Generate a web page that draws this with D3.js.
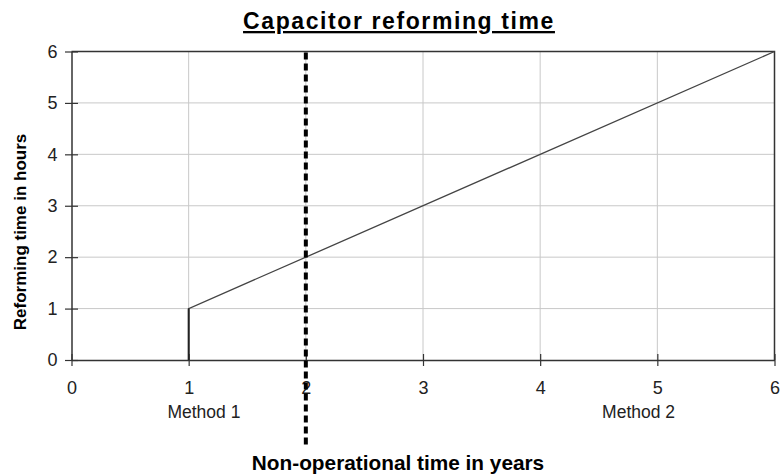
<!DOCTYPE html>
<html>
<head>
<meta charset="utf-8">
<script src="https://cdn.jsdelivr.net/npm/d3@7"></script>
<style>
  body { margin: 0; background: #fff; }
  text { font-family: "Liberation Sans", Arial, sans-serif; }
</style>
</head>
<body>
<script>
// chart data
var yearsOff = [1, 1, 6];       // non-operational time in years
var reformHours = [0, 1, 6];    // reforming time in hours
var xTicks = [0, 1, 2, 3, 4, 5, 6];
var yTicks = [0, 1, 2, 3, 4, 5, 6];
var methodNames = ["Method 1", "Method 2"];
var methodAt = [1.13, 4.84];    // x value under which each method label sits
var splitYear = 2;              // boundary between the methods

var W = 781, H = 476;
var svg = d3.select("body").append("svg")
            .attr("width", W)
            .attr("height", H);

var x = d3.scaleLinear().domain([0, 6]).range([71.5, 774.5]);
var y = d3.scaleLinear().domain([0, 6]).range([360, 51.5]);

// grid
svg.append("g").selectAll("line")
   .data(xTicks.slice(1, -1)).enter().append("line")
   .attr("x1", function(d){ return x(d); }).attr("x2", function(d){ return x(d); })
   .attr("y1", y(0)).attr("y2", y(6))
   .attr("stroke", "#c8c8c8").attr("stroke-width", 1);
svg.append("g").selectAll("line")
   .data(yTicks.slice(1, -1)).enter().append("line")
   .attr("x1", x(0)).attr("x2", x(6))
   .attr("y1", function(d){ return y(d); }).attr("y2", function(d){ return y(d); })
   .attr("stroke", "#c8c8c8").attr("stroke-width", 1);

// frame (top and right)
svg.append("path")
   .attr("d", "M" + x(0) + "," + y(6) + "H" + x(6) + "V" + y(0))
   .attr("fill", "none").attr("stroke", "#333").attr("stroke-width", 1.5);

// axes
var fmt = d3.format("d");
var xAxis = svg.append("g").attr("transform", "translate(0," + y(0) + ")")
   .call(d3.axisBottom(x).tickValues(xTicks).tickFormat(fmt).tickSizeInner(6).tickSizeOuter(0).tickPadding(15));
var yAxis = svg.append("g").attr("transform", "translate(" + x(0) + ",0)")
   .call(d3.axisLeft(y).tickValues(yTicks).tickFormat(fmt).tickSizeInner(6).tickSizeOuter(0).tickPadding(8));
[xAxis, yAxis].forEach(function(a){
  a.attr("font-size", null).attr("font-family", null);
  a.select(".domain").attr("stroke", "#333").attr("stroke-width", 1.5);
  a.selectAll(".tick line").attr("stroke", "#333").attr("stroke-width", 1.2);
  a.selectAll(".tick text").style("font-size", "18px").attr("fill", "#222");
});
// x ticks cross the axis
xAxis.selectAll(".tick line").attr("y1", -6).attr("y2", 6);
xAxis.selectAll(".tick text").attr("y", 21);
yAxis.selectAll(".tick line").attr("x1", -6.5).attr("x2", 6.5);

// series
var pts = yearsOff.map(function(d, i){ return [d, reformHours[i]]; });
svg.append("path")
   .datum(pts)
   .attr("d", d3.line().x(function(d){ return x(d[0]); }).y(function(d){ return y(d[1]); }))
   .attr("fill", "none").attr("stroke", "#444").attr("stroke-width", 1.3);
// first step drawn thicker like the original
svg.append("line")
   .attr("x1", x(yearsOff[0])).attr("x2", x(yearsOff[1]))
   .attr("y1", y(reformHours[0])).attr("y2", y(reformHours[1]))
   .attr("stroke", "#222").attr("stroke-width", 2);

// method divider
svg.append("line")
   .attr("x1", x(splitYear)).attr("x2", x(splitYear))
   .attr("y1", y(6) + 1).attr("y2", 446)
   .attr("stroke", "#000").attr("stroke-width", 4)
   .attr("stroke-dasharray", "7,4");

// method labels
svg.append("g").selectAll("text")
   .data(methodNames).enter().append("text")
   .attr("x", function(d, i){ return x(methodAt[i]); })
   .attr("y", 418)
   .attr("text-anchor", "middle")
   .style("font-size", "17.5px").attr("fill", "#222")
   .text(function(d){ return d; });

// titles
svg.append("text")
   .attr("x", 399).attr("y", 29)
   .attr("text-anchor", "middle")
   .style("font-size", "23px").attr("font-weight", "bold")
   .attr("letter-spacing", 1.6)
   .attr("text-decoration", "underline")
   .text("Capacitor reforming time");

svg.append("text")
   .attr("x", 398).attr("y", 470)
   .attr("text-anchor", "middle")
   .style("font-size", "20.8px").attr("font-weight", "bold")
   .text("Non-operational time in years");

svg.append("text")
   .attr("transform", "translate(26,232) rotate(-90)")
   .attr("text-anchor", "middle")
   .style("font-size", "17px").attr("font-weight", "bold")
   .text("Reforming time in hours");
</script>
</body>
</html>
